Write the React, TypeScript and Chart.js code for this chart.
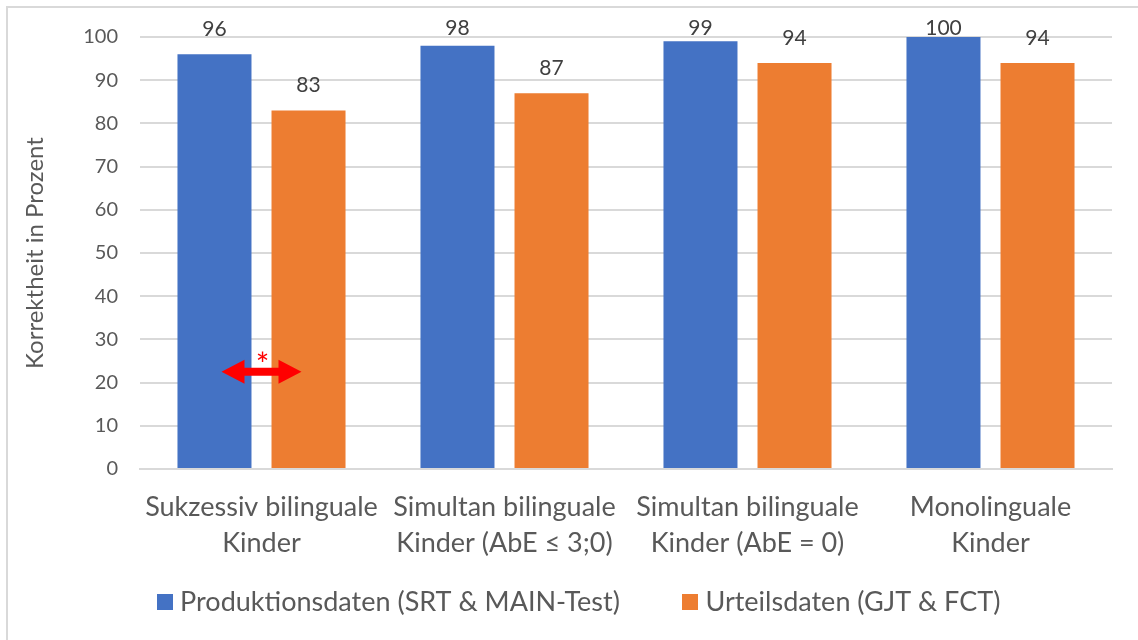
import React, { useEffect, useRef } from "react";
import { Chart, registerables } from "chart.js";

Chart.register(...registerables);

const categories: string[][] = [
  ["Sukzessiv bilinguale", "Kinder"],
  ["Simultan bilinguale", "Kinder (AbE ≤ 3;0)"],
  ["Simultan bilinguale", "Kinder (AbE = 0)"],
  ["Monolinguale", "Kinder"],
];
const seriesNames = ["Produktionsdaten (SRT & MAIN-Test)", "Urteilsdaten (GJT & FCT)"];
const productionValues = [96, 98, 99, 100];
const judgementValues = [83, 87, 94, 94];
const yTickMin = 0;
const yTickMax = 100;
const yTickStep = 10;
const yAxisTitle = "Korrektheit in Prozent";
const significanceCategory = 0;
const significanceValue = 22.5;
const significanceLabel = "*";

const FONT = "Lato, 'Open Sans', sans-serif";
const TEXT = "#595959";
const GRID = "#d9d9d9";
const COLORS = ["#4472C4", "#ED7D31"];
const LEGEND_PAD = 68;
const LEGEND_FONT = 27;

function makeSquare(color: string) {
  const c = document.createElement("canvas");
  c.width = 16;
  c.height = 16;
  const g = c.getContext("2d")!;
  g.fillStyle = color;
  g.fillRect(0, 0, 16, 16);
  return c;
}

const dataLabelPlugin = {
  id: "dataLabels",
  afterDatasetsDraw(chart: any) {
    const { ctx, chartArea } = chart;
    ctx.save();
    ctx.font = `21px ${FONT}`;
    ctx.fillStyle = "#404040";
    ctx.textAlign = "center";
    ctx.textBaseline = "middle";
    chart.data.datasets.forEach((ds: any, di: number) => {
      const meta = chart.getDatasetMeta(di);
      meta.data.forEach((bar: any, i: number) => {
        const y = Math.max(bar.y - 25, chartArea.top - 9);
        ctx.fillText(String(ds.data[i]), bar.x, y);
      });
    });
    ctx.restore();
  },
};

const axisTitlePlugin = {
  id: "axisTitle",
  afterDraw(chart: any) {
    const { ctx, chartArea } = chart;
    ctx.save();
    ctx.font = `24px ${FONT}`;
    ctx.fillStyle = TEXT;
    ctx.textAlign = "center";
    ctx.textBaseline = "middle";
    ctx.translate(35, (chartArea.top + chartArea.bottom) / 2);
    ctx.rotate(-Math.PI / 2);
    ctx.fillText(yAxisTitle, 0, 0);
    ctx.restore();
  },
};

const legendShiftPlugin = {
  id: "legendShift",
  afterLayout(chart: any) {
    const lg = chart.legend;
    if (!lg) return;
    lg.top = chart.scales.x.bottom + 41 - LEGEND_PAD - LEGEND_FONT / 2;
    lg.height = LEGEND_PAD + LEGEND_FONT + 10;
    lg.bottom = lg.top + lg.height;
  },
};

const arrowPlugin = {
  id: "sigArrow",
  afterDatasetsDraw(chart: any) {
    const { ctx } = chart;
    const xs = chart.scales.x;
    const ys = chart.scales.y;
    const cx = xs.getPixelForValue(significanceCategory);
    const cy = ys.getPixelForValue(significanceValue);
    const half = 40;
    const head = 23;
    const headH = 12;
    const shaft = 4;
    ctx.save();
    ctx.fillStyle = "#ff0000";
    ctx.beginPath();
    ctx.moveTo(cx - half, cy);
    ctx.lineTo(cx - half + head, cy - headH);
    ctx.lineTo(cx - half + head, cy - shaft);
    ctx.lineTo(cx + half - head, cy - shaft);
    ctx.lineTo(cx + half - head, cy - headH);
    ctx.lineTo(cx + half, cy);
    ctx.lineTo(cx + half - head, cy + headH);
    ctx.lineTo(cx + half - head, cy + shaft);
    ctx.lineTo(cx - half + head, cy + shaft);
    ctx.lineTo(cx - half + head, cy + headH);
    ctx.closePath();
    ctx.fill();
    ctx.font = `32px ${FONT}`;
    ctx.textAlign = "center";
    ctx.textBaseline = "alphabetic";
    ctx.fillText(significanceLabel, cx + 1, cy + 4);
    ctx.restore();
  },
};

export default function App() {
  const ref = useRef<HTMLCanvasElement | null>(null);
  useEffect(() => {
    if (!ref.current) return;
    const squares = COLORS.map(makeSquare);
    const chart = new Chart(ref.current, {
      type: "bar",
      data: {
        labels: categories,
        datasets: [
          {
            label: seriesNames[0],
            data: productionValues,
            backgroundColor: COLORS[0],
            borderWidth: 0,
            categoryPercentage: 0.774,
            barPercentage: 0.787,
          },
          {
            label: seriesNames[1],
            data: judgementValues,
            backgroundColor: COLORS[1],
            borderWidth: 0,
            categoryPercentage: 0.774,
            barPercentage: 0.787,
          },
        ],
      },
      options: {
        animation: false,
        responsive: false,
        maintainAspectRatio: false,
        layout: { padding: { left: 51, right: 26, top: 37, bottom: 39 } },
        plugins: {
          tooltip: { enabled: false },
          legend: {
            position: "bottom",
            maxHeight: 40,
            labels: {
              usePointStyle: true,
              pointStyleWidth: 4,
              boxWidth: 16,
              boxHeight: 16,
              padding: LEGEND_PAD,
              color: TEXT,
              font: { family: FONT, size: LEGEND_FONT },
              generateLabels(chart: any) {
                const items = Chart.defaults.plugins.legend.labels.generateLabels(chart);
                items.forEach((it: any, i: number) => {
                  it.pointStyle = squares[i];
                  it.lineWidth = 0;
                });
                return items;
              },
            },
          },
        },
        scales: {
          x: {
            grid: { display: false, drawTicks: false },
            border: { display: true, color: GRID, width: 2 },
            ticks: {
              color: TEXT,
              padding: 20,
              font: { family: FONT, size: 27, lineHeight: 36 / 27 },
              maxRotation: 0,
              autoSkip: false,
            },
            afterFit(scale: any) {
              scale.height = 92;
            },
          },
          y: {
            min: yTickMin,
            max: yTickMax,
            grid: { color: GRID, lineWidth: 2, drawTicks: false },
            border: { display: false },
            ticks: {
              stepSize: yTickStep,
              color: TEXT,
              padding: 22,
              font: { family: FONT, size: 20 },
            },
            afterFit(scale: any) {
              scale.width = 89;
            },
          },
        },
      },
      plugins: [legendShiftPlugin, dataLabelPlugin, arrowPlugin, axisTitlePlugin],
    });
    return () => chart.destroy();
  }, []);
  return (
    <div style={{ position: "fixed", left: 0, top: 0, width: 1138, height: 640, background: "#fff", overflow: "hidden" }}>
      <div
        style={{
          position: "absolute",
          left: 6,
          top: 6,
          width: 1200,
          height: 700,
          borderLeft: `2px solid ${GRID}`,
          borderTop: `2px solid ${GRID}`,
        }}
      />
      <canvas ref={ref} width={1138} height={640} style={{ position: "absolute", left: 0, top: 0 }} />
    </div>
  );
}
